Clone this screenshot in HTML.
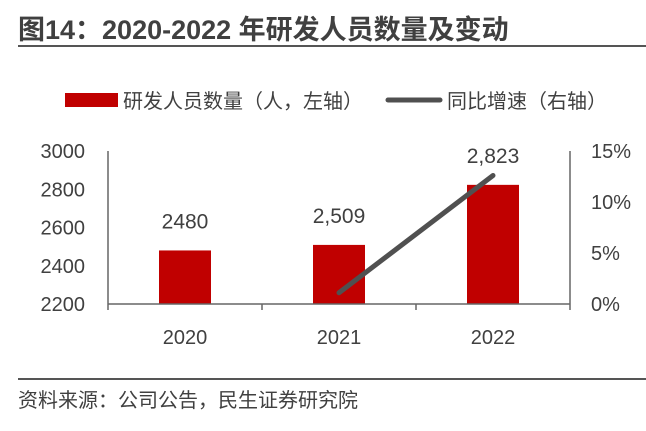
<!DOCTYPE html>
<html><head><meta charset="utf-8"><style>
body{margin:0;background:#fff;width:646px;height:426px;overflow:hidden;font-family:"Liberation Sans","Noto Sans CJK SC",sans-serif;}
</style></head><body>
<svg width="646" height="426" xmlns="http://www.w3.org/2000/svg" font-family="Liberation Sans, Noto Sans CJK SC, sans-serif">
<text x="18" y="39" font-size="27" font-weight="bold" fill="#404040">图14：2020-2022 年研发人员数量及变动</text>
<line x1="18" y1="46" x2="646" y2="46" stroke="#555" stroke-width="2"/>
<g>
<rect x="65" y="93" width="53" height="14" fill="#c00000"/>
<text x="123" y="108" font-size="20" fill="#404040">研发人员数量（人，左轴）</text>
<line x1="388" y1="100" x2="440" y2="100" stroke="#505050" stroke-width="5" stroke-linecap="round"/>
<text x="447" y="108" font-size="20" fill="#404040">同比增速（右轴）</text>
</g>
<g id="chart"></g>
<line x1="18" y1="379" x2="646" y2="379" stroke="#555" stroke-width="2"/>
<text x="18" y="407" font-size="20" fill="#404040">资料来源：公司公告，民生证券研究院</text>
</svg>
<script>
const categories=["2020","2021","2022"];
const staff=[2480,2509,2823];
const staffLabels=["2480","2,509","2,823"];
const growth=[null,1.1,12.6];
const leftTicks=[2200,2400,2600,2800,3000];
const rightTicks=[0,5,10,15];
const NS="http://www.w3.org/2000/svg";
const g=document.getElementById('chart');
const X0=108,X1=570,Y0=304,Y1=151;
const band=(X1-X0)/categories.length;
const xc=i=>X0+band*(i+0.5);
const yL=v=>Y0-(v-2200)/(3000-2200)*(Y0-Y1);
const yR=v=>Y0-v/15*(Y0-Y1);
function mk(t,a,txt){const e=document.createElementNS(NS,t);for(const k in a)e.setAttribute(k,a[k]);if(txt!==undefined)e.textContent=txt;g.appendChild(e);return e;}
leftTicks.forEach(v=>{const e=mk('text',{x:85,y:yL(v)+7,'font-size':20,fill:'#404040','text-anchor':'end'},String(v));

});
rightTicks.forEach(v=>{const e=mk('text',{x:591,y:yR(v)+7,'font-size':20,fill:'#404040'},v+'%');

});
staff.forEach((v,i)=>{const r=mk('rect',{x:xc(i)-26,y:yL(v),width:52,height:Y0-yL(v),fill:'#c00000'});


const t=mk('text',{x:xc(i),y:yL(v)-22,'font-size':21,fill:'#404040','text-anchor':'middle'},staffLabels[i]);


const c=mk('text',{x:xc(i),y:344,'font-size':20,fill:'#404040','text-anchor':'middle'},categories[i]);

});
const la=mk('line',{x1:X0,y1:Y1,x2:X0,y2:Y0,stroke:'#666','stroke-width':1.5});


const ra=mk('line',{x1:X1,y1:Y1,x2:X1,y2:Y0,stroke:'#666','stroke-width':1.5});


const xa=mk('line',{x1:X0,y1:Y0,x2:X1,y2:Y0,stroke:'#666','stroke-width':1.5});


for(let i=0;i<=categories.length;i++){const t=mk('line',{x1:X0+band*i,y1:Y0,x2:X0+band*i,y2:Y0+6,stroke:'#666','stroke-width':1.5});

}
const pts=[];growth.forEach((v,i)=>{if(v!==null)pts.push(xc(i)+','+yR(v));});
const pl=mk('polyline',{points:pts.join(' '),fill:'none',stroke:'#505050','stroke-width':5,'stroke-linecap':'round'});


</script>
</body></html>
